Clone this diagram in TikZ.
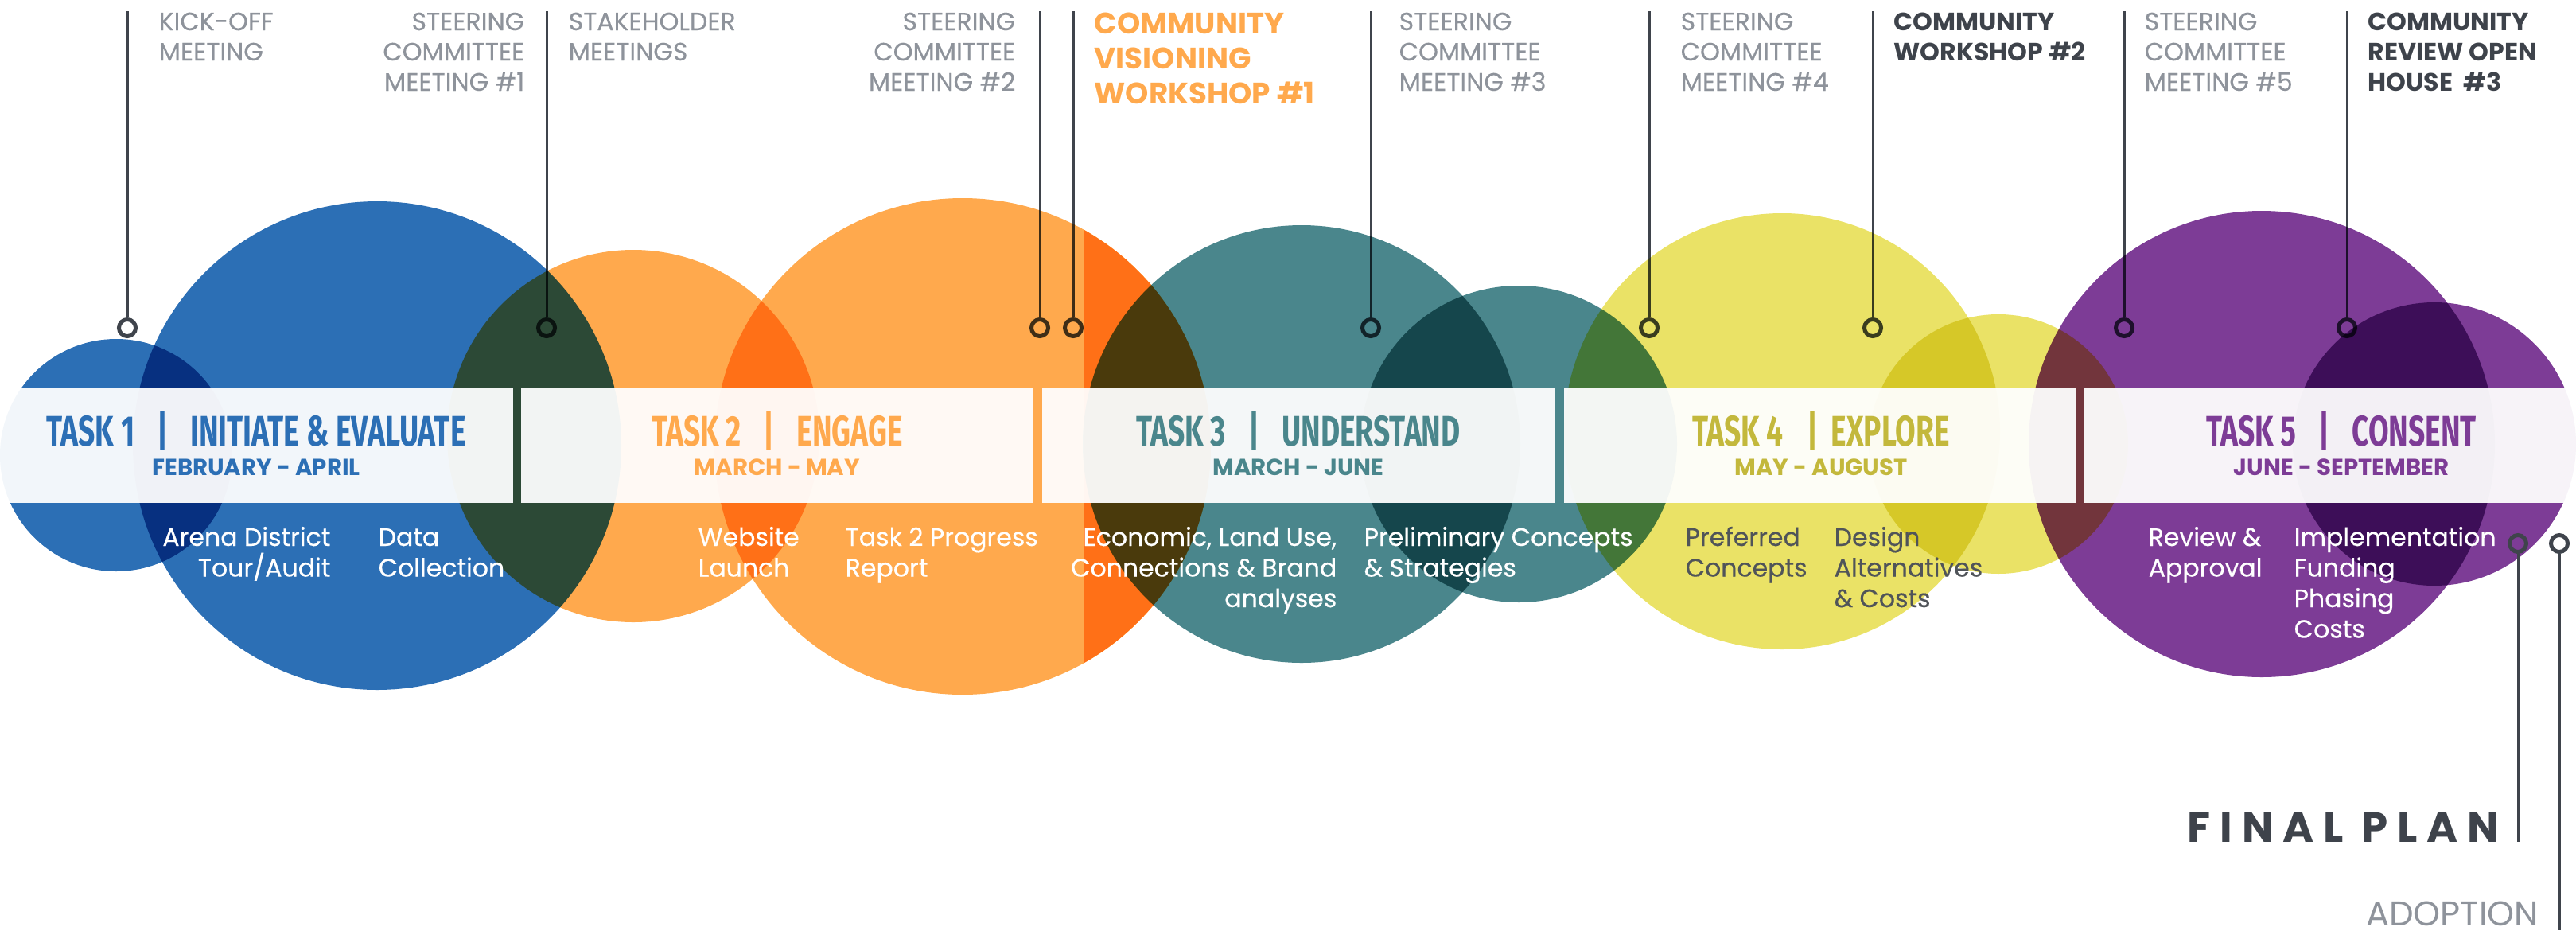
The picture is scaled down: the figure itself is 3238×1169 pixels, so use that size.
\documentclass[tikz,border=0pt]{standalone}
\usepackage{fontspec}
\setmainfont{Poppins}
\newfontfamily\condfont[FakeStretch=0.69]{Fira Sans}
\newfontfamily\spacedfont[LetterSpace=22]{Poppins}
\newfontfamily\medfont[FakeBold=0.3]{Poppins}

\definecolor{cblue}{HTML}{2C6FB5}
\definecolor{corange}{HTML}{FFA94D}
\definecolor{cteal}{HTML}{4A868C}
\definecolor{cyellow}{HTML}{EAE266}
\definecolor{cpurple}{HTML}{7D3C96}
\definecolor{olivetext}{HTML}{C3B83C}
\definecolor{labgray}{HTML}{8E939B}
\definecolor{labdark}{HTML}{3E434B}
\definecolor{linec}{HTML}{3F444C}
\definecolor{bodydark}{HTML}{505459}

\newcommand{\barsep}[1][0.28cm]{\hspace{#1}|\hspace{#1}}

\tikzset{
  lab/.style={inner sep=0pt, text=labgray, align=left,
    font={\fontsize{8.98pt}{10.8pt}\medfont}},
  labdk/.style={lab, text=labdark, font={\fontsize{8.98pt}{10.8pt}\selectfont\bfseries}},
  labbig/.style={lab, text=corange, font={\fontsize{10.6pt}{12.5pt}\selectfont\bfseries}},
  body/.style={inner sep=0pt, text=white, align=left,
    font={\fontsize{8.98pt}{10.95pt}\medfont}},
  tasktitle/.style={inner sep=0pt, anchor=base,
    font={\fontsize{15.3pt}{17pt}\condfont\bfseries}},
  taskdate/.style={inner sep=0pt, anchor=base,
    font={\fontsize{8.3pt}{10pt}\selectfont\bfseries}},
  ring/.style={circle, draw=linec, line width=0.05cm, minimum size=0.21cm,
    inner sep=0pt},
  mline/.style={draw=linec, line width=0.03cm},
  bandseg/.style={fill=white, fill opacity=0.94},
}

\begin{document}
\begin{tikzpicture}[x=0.01cm, y=-0.01cm]
\useasboundingbox (0,0) rectangle (3238,1169);

% milestone pins hanging from the top
\foreach \n/\x in {m1/160, m2/687, m3/1307, m4/1349, m5/1723, m6/2073,
                   m7/2354, m8/2670, m9/2950} {
  \node[ring] (\n) at (\x,412) {};
  \coordinate (\n top) at (\x,14);
  \draw[mline] (\n top) -- (\n.north);
}

% overlapping task circles, multiplied so overlaps darken
\begin{scope}[blend mode=multiply]
  \fill[cblue] (146,572) circle[radius=146];
  \fill[cblue] (474,560) circle[radius=307];
  \fill[corange] (796,548) circle[radius=234];
  \fill[corange] (1210,561) circle[radius=312];
  \begin{scope}
    \clip (1363,0) rectangle (1600,1000);
    \fill[corange] (1210,561) circle[radius=312];
  \end{scope}
  \fill[cteal] (1636,558) circle[radius=275];
  \fill[cteal] (1909,558) circle[radius=199];
  \fill[cyellow] (2240,542) circle[radius=274];
  \fill[cyellow] (2512,558) circle[radius=163];
  \fill[cpurple] (2843,558) circle[radius=293];
  \fill[cpurple] (3060,558) circle[radius=178];
\end{scope}

% translucent title band, split per task
\fill[bandseg] (0,487) rectangle (645,632);
\fill[bandseg] (655,487) rectangle (1299,632);
\fill[bandseg] (1310,487) rectangle (1954,632);
\fill[bandseg] (1966,487) rectangle (2609,632);
\fill[bandseg] (2620,487) rectangle (3238,632);

% task titles and dates
\node[tasktitle, text=cblue] (t1) at (322,560) {TASK 1\barsep INITIATE \& EVALUATE};
\node[taskdate, text=cblue] (d1) at (322,597) {FEBRUARY - APRIL};
\node[tasktitle, text=corange] (t2) at (977,560) {TASK 2\barsep ENGAGE};
\node[taskdate, text=corange] (d2) at (977,597) {MARCH - MAY};
\node[tasktitle, text=cteal] (t3) at (1632,560) {TASK 3\barsep UNDERSTAND};
\node[taskdate, text=cteal] (d3) at (1632,597) {MARCH - JUNE};
\node[tasktitle, text=olivetext] (t4) at (2289,560) {TASK 4\hspace{0.3cm}|\hspace{0.16cm}EXPLORE};
\node[taskdate, text=olivetext] (d4) at (2289,597) {MAY - AUGUST};
\node[tasktitle, text=cpurple] (t5) at (2943,560) {TASK 5\barsep CONSENT};
\node[taskdate, text=cpurple] (d5) at (2943,597) {JUNE - SEPTEMBER};

% milestone labels (anchored on the baseline of their last line)
\node[lab, anchor=base west] (l1) at (199,76) {KICK-OFF\\MEETING};
\node[lab, anchor=base east, align=right] (l2) at (660,114) {STEERING\\COMMITTEE\\MEETING \#1};
\node[lab, anchor=base west] (l3) at (714,76) {STAKEHOLDER\\MEETINGS};
\node[lab, anchor=base east, align=right] (l4) at (1277,114) {STEERING\\COMMITTEE\\MEETING \#2};
\node[labbig, anchor=base west] (l5) at (1375,130) {COMMUNITY\\VISIONING\\WORKSHOP \#1};
\node[lab, anchor=base west] (l6) at (1758,114) {STEERING\\COMMITTEE\\MEETING \#3};
\node[lab, anchor=base west] (l7) at (2112,114) {STEERING\\COMMITTEE\\MEETING \#4};
\node[labdk, anchor=base west] (l8) at (2380,76) {COMMUNITY\\WORKSHOP \#2};
\node[lab, anchor=base west] (l9) at (2695,114) {STEERING\\COMMITTEE\\MEETING \#5};
\node[labdk, anchor=base west] (l10) at (2976,114) {COMMUNITY\\REVIEW OPEN\\HOUSE\ \ \#3};

% task activities
\node[body, anchor=base east, align=right] (a1) at (416,724.5) {Arena District\\Tour/Audit};
\node[body, anchor=base west] (a2) at (475,724.5) {Data\\Collection};
\node[body, anchor=base west] (a3) at (877,724.5) {Website\\Launch};
\node[body, anchor=base west] (a4) at (1062,724.5) {Task 2 Progress\\Report};
\node[body, anchor=base east, align=right] (a5) at (1681,763) {Economic, Land Use,\\Connections \& Brand\\analyses};
\node[body, anchor=base west] (a6) at (1714,724.5) {Preliminary Concepts\\\& Strategies};
\node[body, anchor=base west, text=bodydark] (a7) at (2118,724.5) {Preferred\\Concepts};
\node[body, anchor=base west, text=bodydark] (a8) at (2305,763) {Design\\Alternatives\\\& Costs};
\node[body, anchor=base west] (a9) at (2700,724.5) {Review \&\\Approval};
\node[body, anchor=base west] (a10) at (2883,801.5) {Implementation\\Funding\\Phasing\\Costs};

% closing milestones below the band
\node[ring] (fp) at (3165,683) {};
\node[ring] (ad) at (3217,683) {};
\coordinate (fpend) at (3165,1058);
\coordinate (adend) at (3217,1169);
\draw[mline] (fp.south) -- (fpend);
\draw[mline] (ad.south) -- (adend);
\node[inner sep=0pt, anchor=base east, text=labdark,
  font={\fontsize{15.1pt}{17pt}\spacedfont\bfseries}] (final) at (3142,1058) {FINAL PLAN};
\node[inner sep=0pt, anchor=base east, text=labgray,
  font={\fontsize{12.3pt}{13pt}\selectfont}] (adopt) at (3192,1163) {ADOPTION};
\end{tikzpicture}
\end{document}
